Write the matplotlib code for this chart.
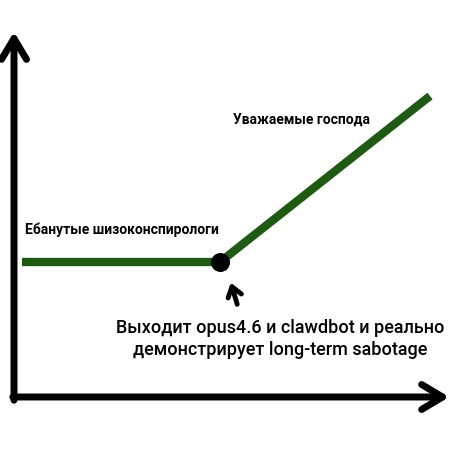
import matplotlib
matplotlib.use("Agg")
import matplotlib.pyplot as plt

# точки графика (в координатах картинки, ось y вниз)
line_x = [22, 220, 430]
line_y = [263, 263, 97]
dot_x, dot_y = 220, 263

label_top = "Уважаемые господа"
label_left = "Ебанутые шизоконспирологи"
caption = "Выходит opus4.6 и clawdbot и реально\nдемонстрирует long-term sabotage"

plt.rcParams["font.family"] = ["Roboto", "DejaVu Sans"]

fig = plt.figure(figsize=(4.6, 4.6), dpi=100)
ax = fig.add_axes([0, 0, 1, 1])
ax.set_xlim(0, 460)
ax.set_ylim(460, 0)
ax.axis("off")

# оси со стрелками (открытые наконечники)
ax.annotate("", xy=(14, 30), xytext=(14, 404),
            arrowprops=dict(arrowstyle="->,head_length=1.5,head_width=0.9", lw=5, color="black"))
ax.annotate("", xy=(452, 398), xytext=(10, 398),
            arrowprops=dict(arrowstyle="->,head_length=1.5,head_width=0.9", lw=5, color="black"))

ax.plot(line_x, line_y, color="#1e5a12", lw=6, solid_capstyle="butt", zorder=2)
ax.scatter([dot_x], [dot_y], s=160, color="black", zorder=3)

ax.text(302, 120, label_top, fontsize=10, fontweight="bold", ha="center", va="center")
ax.text(25, 230, label_left, fontsize=10, fontweight="bold", ha="left", va="center")

# маленькая стрелка к точке
ax.annotate("", xy=(230, 281), xytext=(238, 308),
            arrowprops=dict(arrowstyle="->,head_length=0.7,head_width=0.5", lw=3.5, color="black"))

ax.text(280, 339, caption, fontsize=13, fontweight="medium", ha="center", va="center", linespacing=1.3)

fig.savefig("out.png", dpi=100, facecolor="white")
